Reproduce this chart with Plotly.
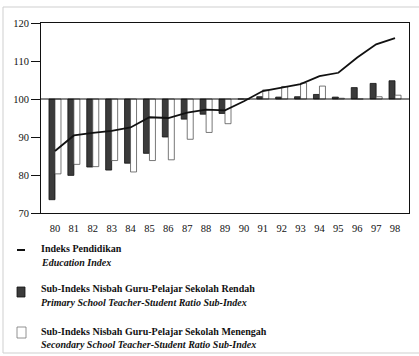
import plotly.graph_objects as go

# Years (19xx) shown along the x axis
years = ["80", "81", "82", "83", "84", "85", "86", "87", "88", "89",
         "90", "91", "92", "93", "94", "95", "96", "97", "98"]

# Education Index (1990 = 100)
education_index = [86.3, 90.4, 91.1, 91.6, 92.5, 95.2, 95.0, 96.4, 97.2, 97.0,
                   99.4, 102.1, 103.0, 103.9, 106.0, 106.9, 110.9, 114.4, 116.0]

# Primary school teacher-student ratio sub-index
primary_ratio = [73.5, 79.9, 82.1, 81.3, 83.1, 85.7, 90.0, 94.7, 96.0, 96.2,
                 100.0, 100.6, 100.5, 100.6, 101.2, 100.5, 103.0, 104.1, 104.8]

# Secondary school teacher-student ratio sub-index
secondary_ratio = [80.3, 82.8, 82.2, 83.8, 80.8, 83.8, 84.0, 89.4, 91.2, 93.5,
                   100.0, 102.4, 103.3, 104.2, 103.4, 100.2, 100.0, 100.6, 101.0]

y_ticks = [70, 80, 90, 100, 110, 120]
BASE = 100

legend_entries = [
    ("Indeks Pendidikan", "Education Index"),
    ("Sub-Indeks Nisbah Guru-Pelajar Sekolah Rendah",
     "Primary School Teacher-Student Ratio Sub-Index"),
    ("Sub-Indeks Nisbah Guru-Pelajar Sekolah Menengah",
     "Secondary School Teacher-Student Ratio Sub-Index"),
]

FONT = "'Liberation Serif', 'DejaVu Serif', serif"
DARK = "#3b3b3b"
INK = "#111111"

# Figure geometry in pixels
W, H = 419, 356
ML, MR, MT, MB = 41, 10, 23, 143
PW = W - ML - MR
PH = H - MT - MB


def px_x(x):
    return (x - ML) / PW


def px_y(y):
    return (H - MB - y) / PH


fig = go.Figure()

fig.add_trace(go.Bar(
    x=years, y=[v - BASE for v in primary_ratio], base=BASE,
    marker=dict(color=DARK, line=dict(color=INK, width=0.8)),
    name=legend_entries[1][1],
))
fig.add_trace(go.Bar(
    x=years, y=[v - BASE for v in secondary_ratio], base=BASE,
    marker=dict(color="white", line=dict(color="#555555", width=0.8)),
    name=legend_entries[2][1],
))
fig.add_trace(go.Scatter(
    x=years, y=education_index, mode="lines",
    line=dict(color=INK, width=1.8),
    name=legend_entries[0][1],
))

shapes = [
    # reference line at the base value
    dict(type="line", xref="paper", yref="y", x0=0, x1=1, y0=BASE, y1=BASE,
         line=dict(color=INK, width=1.2), layer="above"),
    # outer page frame
    dict(type="rect", xref="paper", yref="paper",
         x0=px_x(3), x1=px_x(430), y0=px_y(353), y1=px_y(7),
         line=dict(color="#cfcfcf", width=1)),
    # legend keys
    dict(type="line", xref="paper", yref="paper",
         x0=px_x(17), x1=px_x(25), y0=px_y(250), y1=px_y(250),
         line=dict(color=INK, width=2)),
    dict(type="rect", xref="paper", yref="paper",
         x0=px_x(17), x1=px_x(25), y0=px_y(297), y1=px_y(287),
         fillcolor=DARK, line=dict(color=INK, width=0.8)),
    dict(type="rect", xref="paper", yref="paper",
         x0=px_x(17), x1=px_x(26), y0=px_y(338), y1=px_y(327),
         fillcolor="white", line=dict(color="#777777", width=0.8)),
]

annotations = []
legend_rows = [(249, 262), (288, 302), (331, 344)]
for (malay, english), (y1, y2) in zip(legend_entries, legend_rows):
    annotations.append(dict(
        text="<b>%s</b>" % malay, xref="paper", yref="paper",
        x=px_x(39), y=px_y(y1), xanchor="left", yanchor="middle",
        showarrow=False, font=dict(family=FONT, size=10, color=INK)))
    annotations.append(dict(
        text="<b><i>%s</i></b>" % english, xref="paper", yref="paper",
        x=px_x(39), y=px_y(y2), xanchor="left", yanchor="middle",
        showarrow=False, font=dict(family=FONT, size=10, color=INK)))

fig.update_layout(
    width=W, height=H,
    margin=dict(l=ML, r=MR, t=MT, b=MB),
    paper_bgcolor="white", plot_bgcolor="white",
    barmode="group", bargap=0.365, bargroupgap=0,
    showlegend=False,
    font=dict(family=FONT, size=10.5, color=INK),
    shapes=shapes, annotations=annotations,
    xaxis=dict(
        type="category", range=[-0.74, len(years) - 0.26],
        showline=True, mirror=True, linecolor=INK, linewidth=1,
        ticks="", showgrid=False, zeroline=False,
        tickfont=dict(family=FONT, size=10.5, color=INK),
        ticklabelstandoff=5,
    ),
    yaxis=dict(
        range=[70, 120], tickvals=y_ticks,
        showline=True, mirror=True, linecolor=INK, linewidth=1,
        ticks="outside", ticklen=9, tickwidth=1, tickcolor=INK,
        showgrid=False, zeroline=False,
        tickfont=dict(family=FONT, size=10.5, color=INK),
    ),
)

fig.write_html("out.html")
